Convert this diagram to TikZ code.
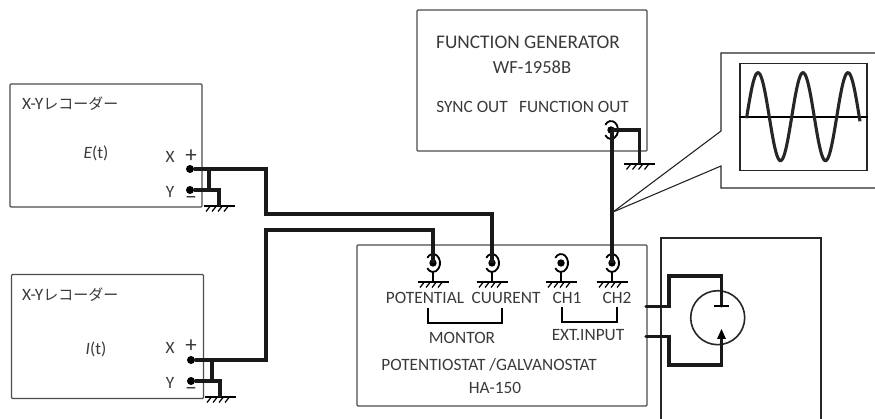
\documentclass[tikz,border=0pt]{standalone}
\usepackage{fontspec}
\setmainfont{Carlito}
\newfontfamily\jpfont{Noto Sans CJK JP}
\usepackage{xcolor}
\usetikzlibrary{arrows.meta,calc}
\definecolor{labelgray}{HTML}{3A3A3A}
\tikzset{
    panel/.style={draw=black!70, line width=1.2pt, rounded corners=1pt, inner sep=0pt},
    wire/.style={line width=3.4pt, black!90, line join=miter},
    thinwire/.style={line width=1.1pt, black!85},
    lbl/.style={text=labelgray, inner sep=0pt, font=\fontsize{17.3}{18}\selectfont},
    endpoint/.style={circle, fill=black, inner sep=0pt, minimum size=8pt},
    gnd/.pic={
        \draw[line width=1.4pt] (-15.5,0) -- (15.5,0);
        \foreach \i in {-9,-3,3,9} \draw[line width=1.2pt] (\i,0.5) -- (\i-4,5.5);
    },
    jack/.pic={
        \draw[line width=1.8pt] (-5.73,-5.16) arc[start angle=145, end angle=-145, x radius=7pt, y radius=9pt];
        \fill (0,0) circle[radius=3.7pt];
    }
}

\begin{document}
\begin{tikzpicture}[x=1pt,y=-1pt]
    \useasboundingbox (0,0) rectangle (875,419);

    % instruments
    \node[panel, minimum width=192pt, minimum height=123pt] (recE) at (106,145.5) {};
    \node[panel, minimum width=192pt, minimum height=124pt] (recI) at (107.5,336.5) {};
    \node[panel, minimum width=230pt, minimum height=141pt] (gen) at (532,80.5) {};
    \node[panel, minimum width=290pt, minimum height=161pt] (pot) at (502,325.5) {};

    \node[lbl, anchor=west] (recEname) at (22,104) {X-Y{\jpfont\fontsize{15}{16}\selectfont レコーダー}};
    \node[lbl, anchor=west] (recIname) at (22,295) {X-Y{\jpfont\fontsize{15}{16}\selectfont レコーダー}};
    \node[lbl] (recEsig) at (96,153) {\textit{E}(t)};
    \node[lbl] (recIsig) at (96,349) {\textit{I}(t)};
    \node[lbl] (recEx) at (170,157) {X};
    \node[lbl] (recEy) at (170,192) {Y};
    \node[lbl] (recIx) at (170,348) {X};
    \node[lbl] (recIy) at (170,383) {Y};
    \node[lbl, font=\fontsize{23}{23}\selectfont] (recEp) at (191,156) {+};
    \node[lbl, font=\fontsize{23}{23}\selectfont] (recIp) at (191,346) {+};
    \node[lbl, font=\fontsize{23}{23}\selectfont] (recEm) at (191,200) {\textminus};
    \node[lbl, font=\fontsize{23}{23}\selectfont] (recIm) at (191,391) {\textminus};

    \node[lbl, font=\fontsize{19.3}{20}\selectfont] (genname) at (528,42) {FUNCTION GENERATOR};
    \node[lbl, font=\fontsize{18.5}{20}\selectfont] (genmodel) at (532,67) {WF-1958B};
    \node[lbl] (syncout) at (472,107) {SYNC OUT};
    \node[lbl] (funcout) at (574,107) {FUNCTION OUT};

    \node[lbl] (potlabel) at (425,298) {POTENTIAL};
    \node[lbl] (curlabel) at (506,298) {CUURENT};
    \node[lbl] (chalabel) at (567,298) {CH1};
    \node[lbl] (chblabel) at (617,298) {CH2};
    \node[lbl] (montor) at (462,338) {MONTOR};
    \node[lbl] (extinput) at (588,335) {EXT.INPUT};
    \node[lbl] (potname) at (489,365) {POTENTIOSTAT /GALVANOSTAT};
    \node[lbl] (potmodel) at (495,388) {HA-150};

    % jacks with their grounds
    \foreach \name/\x in {jpot/433,jcur/492,jcha/561,jchb/612} {
        \coordinate (\name) at (\x,263);
        \pic at (\name) {jack};
        \coordinate (\name g) at (\x,282);
        \draw[line width=2.4pt] (\x,272) -- (\name g);
        \pic at (\name g) {gnd};
    }
    \coordinate (jgen) at (611,130);
    \pic at (jgen) {jack};

    % terminals
    \node[endpoint] (eX) at (190,169) {};
    \node[endpoint] (eY) at (190,190) {};
    \node[endpoint] (iX) at (191,360) {};
    \node[endpoint] (iY) at (191,381) {};
    \coordinate (eG) at (219,206);
    \coordinate (iG) at (220,397);
    \coordinate (genG) at (639.5,164);
    \pic at (eG) {gnd};
    \pic at (iG) {gnd};
    \pic at (genG) {gnd};

    % wiring
    \coordinate (eTee) at (209,169);
    \coordinate (iTee) at (212,360);
    \coordinate (eTeeb) at (209,190);
    \coordinate (iTeeb) at (212,381);
    \coordinate (eBend) at (266,214);
    \coordinate (iBend) at (266,230);
    \draw[wire] (eX) -| (eBend) -| (jcur);
    \draw[wire] (iX) -| (iBend) -| (jpot);
    \draw[wire] (eY) -| (eG);
    \draw[wire] (iY) -| (iG);
    \draw[wire] (eTee) -- (eTeeb);
    \draw[wire] (iTee) -- (iTeeb);
    \draw[wire] (jgen) -| (genG);
    \draw[wire] (jgen -| jchb) -- (jchb);

    % brackets
    \coordinate (monL) at (428,308);
    \coordinate (monR) at (502,308);
    \coordinate (monB) at (465,323);
    \coordinate (extL) at (562,307);
    \coordinate (extR) at (617,307);
    \coordinate (extB) at (590,322);
    \draw[line width=2.1pt] (monL) |- (monB) -| (monR);
    \draw[line width=2.1pt] (extL) |- (extB) -| (extR);

    % waveform inset
    \coordinate (tap) at (613,212);
    \coordinate (insA) at (721,131);
    \coordinate (insB) at (721,166);
    \coordinate (insTR) at (875,53);
    \coordinate (insBR) at (875,188);
    \draw[thinwire] (tap) -- (insA) |- (insTR);
    \draw[thinwire] (tap) -- (insB) |- (insBR);
    \node[draw=black!85, line width=1.4pt, minimum width=127pt, minimum height=107.5pt, inner sep=0pt] (scope) at (803.5,117) {};
    \draw[line width=1.8pt] (scope.west) -- (scope.east);
    \draw[line width=3.1pt, black!85] plot[domain=746.5:860, samples=120] (\x, {116.7 - 44*cos(8*(\x-758))});

    % cell
    \coordinate (cellTL) at (661,238);
    \coordinate (cellBL) at (661,419);
    \coordinate (cellTR) at (821,238);
    \coordinate (cellBR) at (821,419);
    \draw[line width=2pt, black!85] (cellBL) -- (cellTL) -- (cellTR) -- (cellBR);
    \node[circle, draw=black!85, line width=1.6pt, minimum size=54pt, inner sep=0pt] (tube) at (717.7,317.7) {};
    \coordinate (outA) at (646,306.5);
    \coordinate (outB) at (646,336.5);
    \coordinate (upA) at (669,276);
    \coordinate (upB) at (669,365);
    \coordinate (plate) at (721.5,306);
    \coordinate (cath) at (721.5,335);
    \coordinate (tip) at (721.5,329);
    \draw[wire, line cap=round] (outA) -| (upA) -| (plate);
    \draw[wire, line cap=round] (outB) -| (upB) -| (cath);
    \draw[line width=1.8pt] ($(plate)+(-7.5,0)$) -- ($(plate)+(7.5,0)$);
    \fill (tip) -- ++(-4.5,10) -- ++(9,0) -- cycle;
\end{tikzpicture}
\end{document}
